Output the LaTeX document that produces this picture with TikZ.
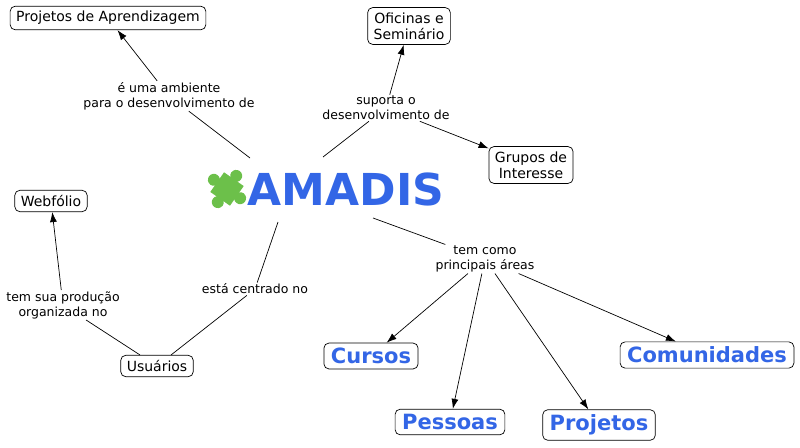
\documentclass[tikz,border=0pt]{standalone}
\usepackage{fontspec}
\usetikzlibrary{arrows.meta}
\setmainfont{DejaVu Sans}
\definecolor{amblue}{HTML}{3366E6}
\definecolor{puz}{HTML}{6CC04A}
\begin{document}
\begin{tikzpicture}[x=1pt,y=-1pt,
  box/.style={draw,rounded corners=5pt,fill=white,inner xsep=6pt,inner ysep=5pt,font=\fontsize{14}{16}\selectfont,align=center},
  bbox/.style={draw,rounded corners=5pt,fill=white,inner xsep=7pt,inner ysep=5pt,font=\fontsize{21}{23}\selectfont\bfseries,text=amblue},
  lab/.style={font=\fontsize{12.5}{15}\selectfont,align=center,inner sep=1pt},
  arr/.style={-{Latex[length=10pt,width=7pt]}},
  every path/.style={line width=0.7pt}]
\useasboundingbox (0,0) rectangle (800,447);
\node[box] (pa) at (108,18) {Projetos de Aprendizagem};
\node[box] (of) at (409,26) {Oficinas e\\Seminário};
\node[box] (gr) at (531,165) {Grupos de\\Interesse};
\node[box] (we) at (51,201) {Webfólio};
\node[box] (us) at (157,366) {Usuários};
\node[bbox] (cu) at (371,356) {Cursos};
\node[bbox] (co) at (707,355) {Comunidades};
\node[bbox] (pe) at (450,422) {Pessoas};
\node[bbox] (pr) at (599,425) {Projetos};
\node[font=\fontsize{44}{46}\selectfont\bfseries,text=amblue,inner sep=0pt] (am) at (346,189) {AMADIS};
\begin{scope}[shift={(227,189)},rotate=-35]
\fill[puz] (-12,-12) rectangle (12,12);
\fill[puz] (0,-16) circle (6);
\fill[puz] (16,0) circle (6);
\fill[puz] (-16,0) circle (6);
\fill[puz] (0,16) circle (6);
\end{scope}
\node[lab] (l1) at (169,96) {é uma ambiente\\para o desenvolvimento de};
\node[lab] (l2) at (386,108) {suporta o\\desenvolvimento de};
\node[lab] (l3) at (485,259) {tem como\\principais áreas};
\node[lab] (l4) at (255,289) {está centrado no};
\node[lab] (l5) at (63,305) {tem sua produção\\organizada no};
\coordinate (a1) at (250,158);
\coordinate (a2) at (323,157);
\coordinate (a3) at (373,218);
\coordinate (a4) at (278,222);
\draw (a1) -- (l1);
\draw[arr] (l1) -- (pa);
\draw (a2) -- (l2);
\draw[arr] (l2) -- (of);
\draw[arr] (l2) -- (gr);
\draw (a3) -- (l3);
\draw[arr] (l3) -- (cu);
\draw[arr] (l3) -- (pe);
\draw[arr] (l3) -- (pr);
\draw[arr] (l3) -- (co);
\draw (a4) -- (l4);
\draw (l4) -- (us);
\draw (us) -- (l5);
\draw[arr] (l5) -- (we);
\end{tikzpicture}
\end{document}
